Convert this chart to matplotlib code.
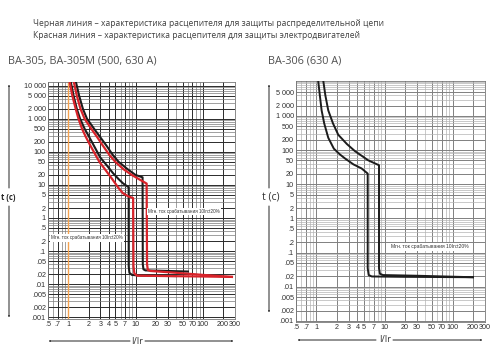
import matplotlib
matplotlib.use("Agg")
import matplotlib.pyplot as plt
from matplotlib.ticker import FixedLocator, NullFormatter

# ---------------- data ----------------
title_line1 = "Черная линия – характеристика расцепителя для защиты распределительной цепи"
title_line2 = "Красная линия – характеристика расцепителя для защиты электродвигателей"
left_title = "ВА-305, ВА-305М (500, 630 А)"
right_title = "ВА-306 (630 А)"
note_text = "Мгн. ток срабатывания 10In±20%"

x_ticks = [0.5, 0.7, 1, 2, 3, 4, 5, 7, 10, 20, 30, 50, 70, 100, 200, 300]
x_tick_labels = [".5", ".7", "1", "2", "3", "4", "5", "7", "10", "20", "30", "50", "70", "100", "200", "300"]
y_ticks_left = [10000, 5000, 2000, 1000, 500, 200, 100, 50, 20, 10, 5, 2, 1,
                0.5, 0.2, 0.1, 0.05, 0.02, 0.01, 0.005, 0.002, 0.001]
y_tick_labels_left = ["10 000", "5 000", "2 000", "1 000", "500", "200", "100", "50", "20",
                      "10", "5", "2", "1", ".5", ".2", ".1", ".05", ".02", ".01", ".005",
                      ".002", ".001"]
y_ticks_right = y_ticks_left[1:]
y_tick_labels_right = y_tick_labels_left[1:]

# Left panel (ВА-305): black = distribution, red = motor protection
bl_x = [1.09, 1.2, 1.34, 1.5, 1.75, 2.05, 2.42, 2.98, 3.7, 4.64, 5.6, 6.5, 7.9, 7.9, 8.1, 8.8, 12, 40]
bl_y = [13000, 5000, 2000, 1000, 500, 280, 150, 68, 40, 22.5, 15, 11.2, 8.5, 0.035, 0.022, 0.019, 0.018, 0.0175]
rl_x = [1.05, 1.15, 1.29, 1.42, 1.6, 1.83, 2.15, 2.55, 2.9, 3.5, 4.5, 5.6, 6.5, 7.8, 9.2, 9.3, 9.6, 10.5, 30, 100, 270]
rl_y = [13000, 5000, 2000, 1000, 500, 280, 150, 80, 50, 30, 15, 8, 5.6, 4.5, 4.0, 0.035, 0.021, 0.018, 0.0175, 0.017, 0.0165]
bu_x = [1.30, 1.45, 1.65, 1.9, 2.42, 2.98, 3.73, 4.6, 5.6, 7.6, 10.0, 12.7, 12.8, 13.1, 14, 30, 60]
bu_y = [13000, 5000, 2000, 1000, 500, 280, 150, 80, 50, 30, 20, 17, 0.04, 0.028, 0.026, 0.025, 0.024]
ru_x = [1.21, 1.34, 1.52, 1.75, 2.2, 2.69, 3.3, 4.1, 5.0, 6.6, 8.8, 11.2, 14.6, 14.8, 15.2, 16.5, 40, 100, 270]
ru_y = [13000, 5000, 2000, 1000, 500, 280, 150, 80, 50, 30, 20, 15, 11, 0.04, 0.027, 0.025, 0.022, 0.019, 0.0165]

# Right panel (ВА-306)
r_low_x = [1.06, 1.12, 1.19, 1.3, 1.49, 1.8, 2.2, 2.62, 3.5, 4.6, 5.66, 5.66, 5.85, 6.5, 20, 200]
r_low_y = [10500, 4000, 1450, 600, 229, 110, 75, 57, 38, 29, 20.5, 0.035, 0.022, 0.02, 0.0195, 0.019]
r_up_x = [1.26, 1.35, 1.49, 1.75, 2.09, 2.8, 3.68, 5.77, 8.3, 8.3, 8.55, 9.5, 30, 200]
r_up_y = [10500, 4000, 1450, 600, 280, 150, 93, 50, 36, 0.035, 0.024, 0.022, 0.021, 0.019]

# ---------------- figure ----------------
fig = plt.figure(figsize=(5.0, 3.56), dpi=100)
plt.rcParams['font.family'] = ['Open Sans', 'DejaVu Sans']

BLACK = "#1c1c1c"
RED = "#d8232a"

def px(x, y):
    return (x / 500.0, 1 - y / 356.0)

fig.text(*px(33, 24), title_line1, fontsize=6.15, color="#404040", va="center", ha="left")
fig.text(*px(33, 35), title_line2, fontsize=6.15, color="#404040", va="center", ha="left")
fig.text(*px(8, 61), left_title, fontsize=7.85, color="#505050", va="center", ha="left")
fig.text(*px(268, 61), right_title, fontsize=7.85, color="#505050", va="center", ha="left")

minor_x = [0.5, 0.6, 0.7, 0.8, 0.9] + list(range(1, 10)) + list(range(10, 100, 10)) + [100, 200, 300]
minor_y = []
for d in [0.001, 0.01, 0.1, 1, 10, 100, 1000, 10000]:
    for m in range(1, 10):
        minor_y.append(d * m)


def setup(ax, ylim, yt, ytl, major_c, minor_c):
    ax.set_xscale('log')
    ax.set_yscale('log')
    ax.set_xlim(0.5, 300)
    ax.set_ylim(*ylim)
    ax.xaxis.set_major_locator(FixedLocator(x_ticks))
    ax.set_xticklabels(x_tick_labels)
    ax.yaxis.set_major_locator(FixedLocator(yt))
    ax.set_yticklabels(ytl)
    ax.xaxis.set_minor_locator(FixedLocator(minor_x))
    ax.yaxis.set_minor_locator(FixedLocator(minor_y))
    ax.xaxis.set_minor_formatter(NullFormatter())
    ax.yaxis.set_minor_formatter(NullFormatter())
    ax.tick_params(which='both', length=0, labelsize=5.2, labelcolor="#303030", pad=1.5)
    for lab in ax.get_xticklabels() + ax.get_yticklabels():
        lab.set_family(['Liberation Sans', 'DejaVu Sans'])
    ax.grid(which='minor', color=minor_c, lw=0.5)
    ax.grid(which='major', color=major_c, lw=0.7)
    ax.set_axisbelow(True)
    for s in ax.spines.values():
        s.set_color("#777777")
        s.set_linewidth(0.6)


axL = fig.add_axes([48 / 500, 1 - 319 / 356, 187 / 500, 237 / 356])
setup(axL, (0.00088, 13000), y_ticks_left, y_tick_labels_left, "#2a2a2a", "#7a7a7a")
axL.axvline(1, color="#f4a24e", lw=1.0, zorder=2)
axL.plot(bl_x, bl_y, color=BLACK, lw=1.5, zorder=3, solid_joinstyle='round')
axL.plot(bu_x, bu_y, color=BLACK, lw=1.5, zorder=3, solid_joinstyle='round')
axL.plot(rl_x, rl_y, color=RED, lw=1.6, zorder=4, solid_joinstyle='round')
axL.plot(ru_x, ru_y, color=RED, lw=1.6, zorder=4, solid_joinstyle='round')
bbox = dict(boxstyle='square,pad=0.25', fc='white', ec='none')
axL.text(0.56, 0.25, note_text, fontsize=3.3, color="#333333", va='center', ha='left',
         bbox=bbox, zorder=5, family=['Liberation Sans', 'DejaVu Sans'])
axL.text(15.5, 1.6, note_text, fontsize=3.3, color="#333333", va='center', ha='left',
         bbox=bbox, zorder=5, family=['Liberation Sans', 'DejaVu Sans'])

axR = fig.add_axes([296 / 500, 1 - 322 / 356, 189 / 500, 241 / 356])
setup(axR, (0.00093, 10500), y_ticks_right, y_tick_labels_right, "#808080", "#b4b4b4")
axR.plot(r_low_x, r_low_y, color=BLACK, lw=1.4, zorder=3, solid_joinstyle='round')
axR.plot(r_up_x, r_up_y, color=BLACK, lw=1.4, zorder=3, solid_joinstyle='round')
axR.text(12.5, 0.146, note_text, fontsize=3.6, color="#333333", va='center', ha='left',
         bbox=bbox, zorder=5, family=['Liberation Sans', 'DejaVu Sans'])

# axis arrows and labels
arrow = dict(arrowstyle='-|>,head_length=0.5,head_width=0.15', color="#222222", lw=0.7,
             shrinkA=0, shrinkB=0)

def farrow(x0, y0, x1, y1):
    fig.add_artist(matplotlib.patches.FancyArrowPatch(px(x0, y0), px(x1, y1),
                   transform=fig.transFigure, **arrow))

# left y
farrow(9, 188, 9, 84)
farrow(9, 206, 9, 318)
fig.text(*px(8, 197), "t (c)", fontsize=5.5, fontweight='bold', color="#222222", ha='center', va='center')
# right y
farrow(269, 188, 269, 84)
farrow(269, 206, 269, 313)
fig.text(*px(271, 197), "t (c)", fontsize=7.5, color="#333333", ha='center', va='center')
# left x
farrow(130, 341, 48, 341)
farrow(145, 341, 234, 341)
fig.text(*px(137, 341), "I/Ir", fontsize=6.5, color="#333333", ha='center', va='center')
# right x
farrow(376, 340, 297, 340)
farrow(393, 340, 483, 340)
fig.text(*px(385, 340), "I/Ir", fontsize=6.5, color="#333333", ha='center', va='center')

fig.savefig("out.png", dpi=100)
